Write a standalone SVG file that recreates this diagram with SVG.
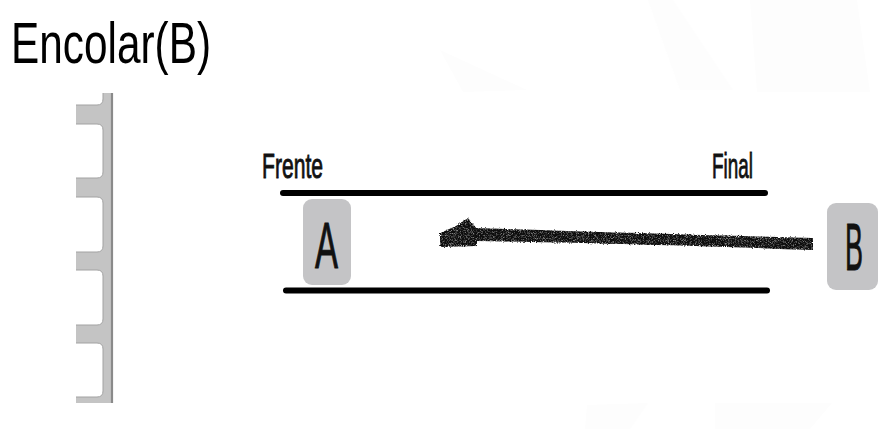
<svg xmlns="http://www.w3.org/2000/svg" width="891" height="429" viewBox="0 0 891 429">
  <style>
    .bg { fill: #fdfdfd; }
    .title { font-family: "Liberation Sans", Arial, sans-serif; font-size: 58px; fill: #000; }
    .cond { font-family: "Liberation Sans", Arial, sans-serif; fill: #111; stroke: #111; stroke-width: 0.9; }
    .lane { stroke: #000; stroke-width: 6; stroke-linecap: round; fill: none; }
    .node { fill: #c4c4c6; }
    .pillar { fill: #c4c4c4; }
    .pillar-edge { fill: none; stroke: #a2a2a2; stroke-width: 1; }
    .pillar-spine { stroke: #8a8a8a; stroke-width: 2.2; }
  </style>
  <defs>
    <filter id="rough" x="-5%" y="-50%" width="110%" height="200%">
      <feTurbulence type="fractalNoise" baseFrequency="0.9" numOctaves="2" seed="3" result="n"/>
      <feDisplacementMap in="SourceGraphic" in2="n" scale="3" xChannelSelector="R" yChannelSelector="G" result="d"/>
      <feTurbulence type="fractalNoise" baseFrequency="1.4" numOctaves="1" seed="7" result="n2"/>
      <feColorMatrix in="n2" type="matrix" values="0 0 0 0 0  0 0 0 0 0  0 0 0 0 0  0 0 0 -1.6 1.75" result="mask"/>
      <feComposite in="d" in2="mask" operator="in"/>
    </filter>
  </defs>

  <rect width="891" height="429" fill="#ffffff"/>

  <!-- faint background watermark shapes -->
  <g id="background">
    <polygon class="bg" points="440,50 527,90 463,92"/>
    <polygon class="bg" points="648,0 673,0 733,90 680,90"/>
    <polygon class="bg" points="750,0 857,0 870,92 757,92"/>
    <polygon class="bg" points="587,405 648,403 630,429 585,429"/>
    <polygon class="bg" points="715,403 832,403 810,429 715,429"/>
  </g>

  <g id="title">
    <text class="title" x="11" y="63" textLength="200" lengthAdjust="spacingAndGlyphs">Encolar(B)</text>
  </g>

  <!-- stack-like pillar on the left -->
  <g id="pillar">
    <path class="pillar" d="M103,93 L103,99 Q103,105 97,105 L76,105 L76,124 L97,124 Q103,124 103,130
      L103,172 Q103,178 97,178 L76,178 L76,197 L97,197 Q103,197 103,203
      L103,246 Q103,252 97,252 L76,252 L76,270 L97,270 Q103,270 103,276
      L103,319 Q103,325 97,325 L76,325 L76,343 L97,343 Q103,343 103,349
      L103,391 Q103,397 97,397 L76,397 L76,403 L113,403 L113,93 Z"/>
    <path class="pillar-edge" d="M103,93 L103,99 Q103,105 97,105 L76,105 M76,124 L97,124 Q103,124 103,130
      L103,172 Q103,178 97,178 L76,178 M76,197 L97,197 Q103,197 103,203
      L103,246 Q103,252 97,252 L76,252 M76,270 L97,270 Q103,270 103,276
      L103,319 Q103,325 97,325 L76,325 M76,343 L97,343 Q103,343 103,349
      L103,391 Q103,397 97,397 L76,397"/>
    <line class="pillar-spine" x1="112" y1="93" x2="112" y2="403"/>
  </g>

  <g id="queue">
    <line class="lane" x1="283" y1="193" x2="765" y2="193"/>
    <line class="lane" x1="286" y1="290.5" x2="767" y2="290.5"/>
    <text class="cond" x="262" y="178" font-size="35" textLength="61" lengthAdjust="spacingAndGlyphs">Frente</text>
    <text class="cond" x="712" y="178" font-size="35" textLength="41" lengthAdjust="spacingAndGlyphs">Final</text>
  </g>

  <g id="node-A">
    <rect class="node" x="303" y="199" width="48" height="86" rx="9"/>
    <text class="cond" x="315" y="268" font-size="64" textLength="23" lengthAdjust="spacingAndGlyphs">A</text>
  </g>

  <g id="node-B">
    <rect class="node" x="827" y="203" width="51" height="87" rx="9"/>
    <text class="cond" x="845" y="270" font-size="67" textLength="18" lengthAdjust="spacingAndGlyphs">B</text>
  </g>

  <g id="connectors">
    <g filter="url(#rough)" fill="#0e0e0e">
      <path d="M813,238 C700,235 600,232 474,228 L474,241 C600,243 700,246 813,250 Z"/>
      <polygon points="440,233 456,226 468,218 477,229 477,246 440,247"/>
    </g>
  </g>
</svg>
